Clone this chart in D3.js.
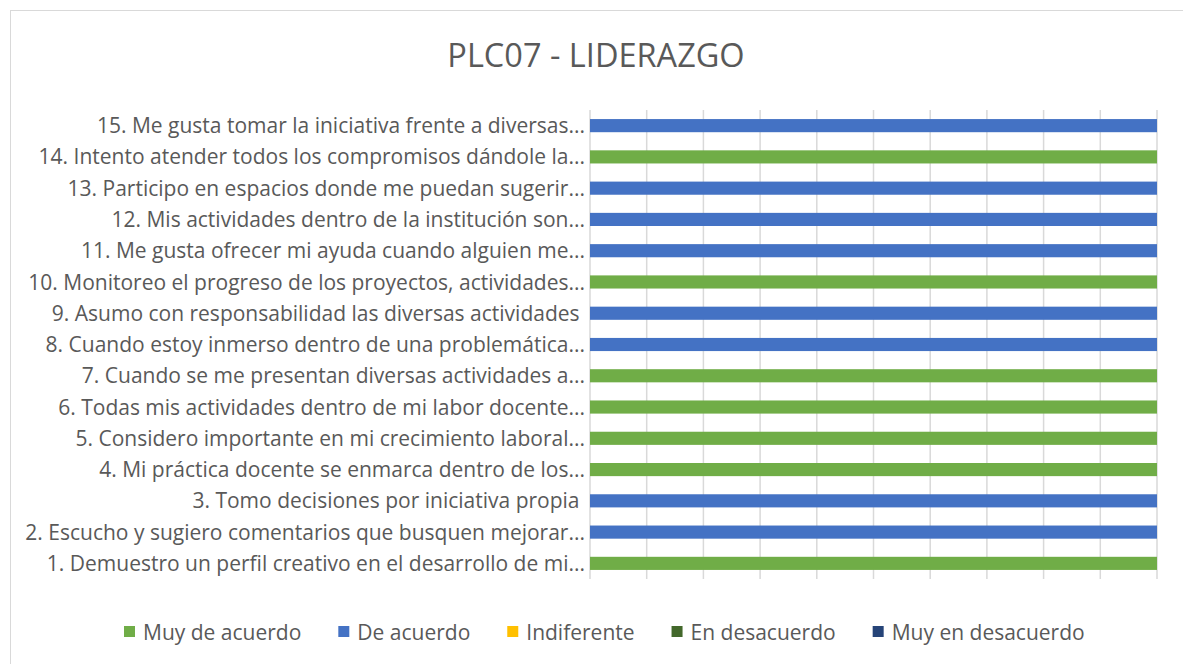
<!DOCTYPE html>
<html lang="es">
<head>
  <meta charset="UTF-8">
  <title>PLC07 - LIDERAZGO</title>
  <script src="https://d3js.org/d3.v7.min.js"></script>
  <style>
    body { margin: 0; background: #fff; }
    text { font-family: "Open Sans", "Noto Sans", sans-serif; fill: #595959; }
    .grid line { stroke: #d9d9d9; stroke-width: 1.5px; }
  </style>
</head>
<body>
<svg id="chart" width="1183" height="664"></svg>
<script>
  // questions, from 1 (bottom) to 15 (top)
  const questions = [
    "1. Demuestro un perfil creativo en el desarrollo de mi...",
    "2. Escucho y sugiero comentarios que busquen mejorar...",
    "3. Tomo decisiones por iniciativa propia ",
    "4. Mi práctica docente se enmarca dentro de los...",
    "5. Considero importante en mi crecimiento laboral...",
    "6. Todas mis actividades dentro de mi labor docente...",
    "7. Cuando se me presentan diversas actividades a...",
    "8. Cuando estoy inmerso dentro de una problemática...",
    "9. Asumo con responsabilidad las diversas actividades ",
    "10. Monitoreo el progreso de los proyectos, actividades...",
    "11. Me gusta ofrecer mi ayuda cuando alguien me...",
    "12. Mis actividades dentro de la institución son...",
    "13. Participo en espacios donde me puedan sugerir...",
    "14. Intento atender todos los compromisos dándole la...",
    "15. Me gusta tomar la iniciativa frente a diversas..."
  ];
  const seriesNames = ["Muy de acuerdo", "De acuerdo", "Indiferente", "En desacuerdo", "Muy en desacuerdo"];
  const seriesColors = ["#70ad47", "#4472c4", "#ffc000", "#43682b", "#264478"];
  // percentages per question (same order as questions)
  const muyDeAcuerdo     = [100, 0, 0, 100, 100, 100, 100, 0, 0, 100, 0, 0, 0, 100, 0];
  const deAcuerdo        = [0, 100, 100, 0, 0, 0, 0, 100, 100, 0, 100, 100, 100, 0, 100];
  const indiferente      = [0, 0, 0, 0, 0, 0, 0, 0, 0, 0, 0, 0, 0, 0, 0];
  const enDesacuerdo     = [0, 0, 0, 0, 0, 0, 0, 0, 0, 0, 0, 0, 0, 0, 0];
  const muyEnDesacuerdo  = [0, 0, 0, 0, 0, 0, 0, 0, 0, 0, 0, 0, 0, 0, 0];
  const xTicks = [0, 10, 20, 30, 40, 50, 60, 70, 80, 90, 100];

  const svg = d3.select("#chart");

  // chart frame
  svg.append("rect")
    .attr("x", 10.5).attr("y", 10.5)
    .attr("width", 1190).attr("height", 670)
    .attr("fill", "#fff").attr("stroke", "#d9d9d9");

  svg.append("text")
    .attr("x", 596).attr("y", 67)
    .attr("text-anchor", "middle")
    .style("font-size", "32.5px")
    .text("PLC07 - LIDERAZGO");

  const table = questions.map((q, i) => ({
    q: q,
    "Muy de acuerdo": muyDeAcuerdo[i],
    "De acuerdo": deAcuerdo[i],
    "Indiferente": indiferente[i],
    "En desacuerdo": enDesacuerdo[i],
    "Muy en desacuerdo": muyEnDesacuerdo[i]
  }));
  const stacked = d3.stack().keys(seriesNames).offset(d3.stackOffsetExpand)(table);

  const x = d3.scaleLinear().domain([0, 100]).range([590, 1157]);
  const y = d3.scaleBand()
    .domain(questions.slice().reverse())
    .range([110, 579])
    .paddingInner(0.58).paddingOuter(0.29);

  // vertical gridlines
  svg.append("g").attr("class", "grid")
    .selectAll("line").data(xTicks).join("line")
    .attr("x1", d => x(d)).attr("x2", d => x(d))
    .attr("y1", 110).attr("y2", 579);

  // bars
  svg.append("g").selectAll("g").data(stacked).join("g")
    .attr("fill", (d, i) => seriesColors[i])
    .selectAll("rect").data(d => d).join("rect")
    .attr("x", d => x(d[0] * 100))
    .attr("width", d => x(d[1] * 100) - x(d[0] * 100))
    .attr("y", d => y(d.data.q))
    .attr("height", y.bandwidth());

  // category labels
  svg.append("g").selectAll("text").data(questions).join("text")
    .attr("x", 585)
    .attr("y", d => y(d) + y.bandwidth() / 2)
    .attr("dy", "0.36em")
    .attr("text-anchor", "end")
    .style("font-size", "21px")
    .style("white-space", "pre")
    .text(d => d);

  // legend
  const legend = svg.append("g").selectAll("g").data(seriesNames).join("g");
  legend.append("rect")
    .attr("y", 626).attr("width", 11).attr("height", 11)
    .attr("fill", (d, i) => seriesColors[i]);
  legend.append("text")
    .attr("y", 632).attr("dy", "0.36em")
    .style("font-size", "21px")
    .text(d => d);

  // lay out legend entries left to right
  let lx = 124;
  legend.each(function(d, i) {
    const g = d3.select(this);
    g.select("rect").attr("x", lx);
    g.select("text").attr("x", lx + 19);
    const w = g.select("text").node().getComputedTextLength();
    lx += 19 + w + 37;
  });
</script>
</body>
</html>
